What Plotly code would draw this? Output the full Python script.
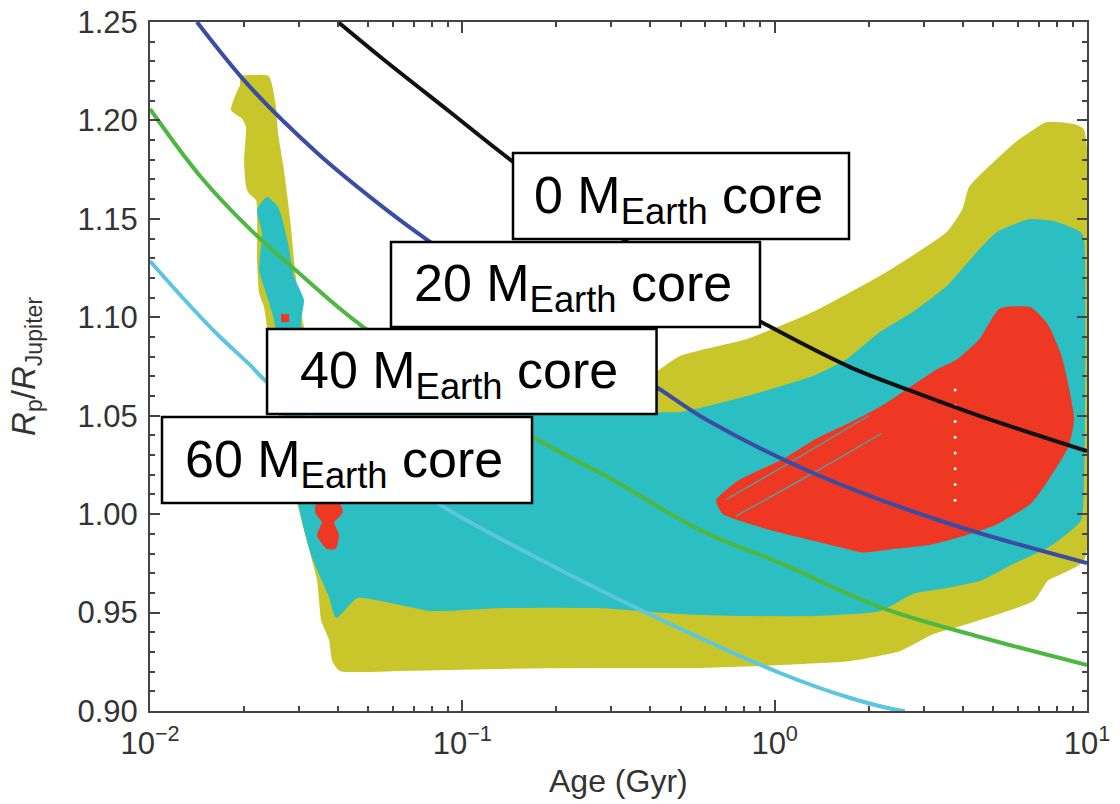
import plotly.graph_objects as go

# ---------------- data (age in Gyr, radius in R_Jupiter) ----------------
# model curves
age_0core = [0.040, 0.0557, 0.0913, 0.144, 0.30, 0.50, 0.918, 1.743, 2.858, 4.649, 10.0]
rad_0core = [1.250, 1.2312, 1.2043, 1.1795, 1.1438, 1.1205, 1.0971, 1.0747, 1.0615, 1.0493, 1.032]

age_20core = [0.01414, 0.0209, 0.0343, 0.0557, 0.0772, 0.1647, 0.399, 0.607, 1.327, 3.565, 10.0]
rad_20core = [1.250, 1.217, 1.1835, 1.156, 1.1393, 1.1027, 1.0666, 1.0478, 1.0209, 0.9955, 0.9752]

age_40core = [0.01, 0.01446, 0.0209, 0.03021, 0.0481, 0.1684, 0.304, 0.577, 1.04, 2.175, 4.547, 10.0]
rad_40core = [1.2058, 1.1718, 1.1448, 1.122, 1.0951, 1.0392, 1.0173, 0.9919, 0.9752, 0.9528, 0.9376, 0.9234]

age_60core = [0.01, 0.01275, 0.01639, 0.0209, 0.0237, 0.083, 0.1866, 0.39, 1.04, 1.705, 2.466, 2.61]
rad_60core = [1.1286, 1.1098, 1.0915, 1.0758, 1.0671, 1.0057, 0.9752, 0.9498, 0.9193, 0.9071, 0.9005, 0.900]

# outer (yellow) allowed region outline
yellow_age = [0.01942, 0.02387, 0.02513, 0.0255, 0.02665, 0.02806, 0.02869, 0.02955, 0.03089,
              0.0377, 0.0913, 0.1909, 0.3625, 0.4978, 0.8159, 1.327, 2.175, 3.565, 4.012, 4.225,
              5.155, 6.107, 7.452, 9.027, 9.716, 9.716, 7.452, 6.721, 4.132, 3.216, 2.521, 1.743,
              0.8981, 0.577, 0.276, 0.132, 0.0632, 0.04058, 0.03855, 0.03771, 0.03554, 0.03502,
              0.0345, 0.03324, 0.0299, 0.02607, 0.02335, 0.02251, 0.02218, 0.02202, 0.0209,
              0.02045, 0.02015, 0.02045, 0.01985, 0.0183, 0.01942]
yellow_rad = [1.2221, 1.2221, 1.2068, 1.1936, 1.1748, 1.1459, 1.1291, 1.1123, 1.0951,
              1.058, 1.058, 1.0605, 1.0656, 1.0798, 1.0885, 1.1022, 1.1205, 1.1428, 1.1545, 1.1662,
              1.1799, 1.1901, 1.1987, 1.1977, 1.1951, 0.9767, 0.9666, 0.9564, 0.9447, 0.9396, 0.931, 0.9259,
              0.9234, 0.9224, 0.9224, 0.9219, 0.9208, 0.9208, 0.9259, 0.9361, 0.9462, 0.9564,
              0.9666, 0.9767, 1.0046, 1.0478, 1.1052, 1.1123, 1.1291, 1.1596, 1.1631,
              1.1662, 1.1799, 1.1967, 1.2012, 1.2053, 1.217]

# middle (cyan) region outline
cyan_age = [0.0237, 0.0255, 0.02745, 0.02869, 0.03089, 0.03021, 0.0341, 0.04058, 0.132, 0.3625,
            0.4978, 0.8159, 1.327, 1.705, 2.175, 2.775, 3.565, 4.547, 5.155, 6.574, 8.023, 9.504,
            9.716, 9.716, 9.504, 7.452, 5.8, 4.547, 3.565, 2.775, 2.175, 1.327, 0.8159, 0.4978,
            0.27, 0.135, 0.0788, 0.046, 0.0395, 0.03771, 0.0357, 0.03324, 0.03181, 0.03021,
            0.02705, 0.02513, 0.0237, 0.02251, 0.02301, 0.02218, 0.0237]
cyan_rad = [1.1606, 1.156, 1.1377, 1.1205, 1.1088, 1.0971, 1.06, 1.0529, 1.0519, 1.0514,
            1.0514, 1.0595, 1.0697, 1.0783, 1.092, 1.1022, 1.1154, 1.1342, 1.1428, 1.1494, 1.1479, 1.1428,
            1.1393, 1.0189, 0.997, 0.9833, 0.9752, 0.9666, 0.963, 0.96, 0.9513, 0.9488, 0.9488, 0.9498,
            0.9528, 0.9528, 0.9513, 0.9579, 0.9478, 0.9579, 0.9666, 0.9782, 0.9884, 1.0036,
            1.0478, 1.0986, 1.1123, 1.124, 1.1428, 1.1545, 1.1606]

# inner (red) region outlines
red_age = [0.654, 0.775, 1.064, 1.367, 1.743, 2.175, 2.775, 3.311, 3.837, 4.547, 5.27, 6.574,
           7.452, 8.2, 8.64, 9.027, 8.64, 7.452, 6.574, 5.155, 4.012, 3.146, 2.466, 1.919,
           1.504, 1.18, 0.918, 0.684, 0.654]
red_rad = [1.007, 1.017, 1.0275, 1.038, 1.046, 1.054, 1.065, 1.073, 1.078, 1.0885, 1.104, 1.1047,
           1.096, 1.081, 1.066, 1.0478, 1.034, 1.0173, 1.0057, 0.9955, 0.9894, 0.985, 0.983, 0.981,
           0.985, 0.989, 0.9935, 1.0006, 1.007]

red_young_age = [0.03502, 0.03855, 0.04118, 0.03855, 0.03999, 0.03912, 0.03687, 0.0345, 0.0358, 0.034, 0.03502]
red_young_rad = [1.010, 1.010, 1.0011, 0.996, 0.9894, 0.9828, 0.9828, 0.9894, 0.996, 1.0011, 1.010]

red_dot_age = [0.02705]
red_dot_rad = [1.0996]

# thin gaps between red "fingers"
gap_a_age = [0.70, 1.2, 2.0]
gap_a_rad = [1.0075, 1.029, 1.050]
gap_b_age = [0.75, 1.3, 2.2]
gap_b_rad = [0.999, 1.020, 1.041]

# white dotted streak inside red region
streak_age = [3.782] * 8
streak_rad = [1.063, 1.055, 1.047, 1.039, 1.031, 1.023, 1.015, 1.007]

# axis ticks
x_tickvals = [0.01, 0.1, 1, 10]
x_ticktext = ["10<sup>\u22122</sup>", "10<sup>\u22121</sup>", "10<sup>0</sup>", "10<sup>1</sup>"]

# labels
core_labels = ["0 M<sub>Earth</sub> core", "20 M<sub>Earth</sub> core",
               "40 M<sub>Earth</sub> core", "60 M<sub>Earth</sub> core"]

# ---------------- styling ----------------
YELLOW = "#c9c62b"
CYAN = "#2bbfc3"
RED = "#ee3823"
C_BLACK = "#111111"
C_BLUE = "#3a4ca3"
C_GREEN = "#4cb842"
C_LBLUE = "#5cc6df"
AX = "#444444"
FONT = "Liberation Sans, Arial, Helvetica, sans-serif"

fig = go.Figure()


def poly(xs, ys, color, lw=2):
    fig.add_trace(go.Scatter(x=xs, y=ys, mode="lines", fill="toself", fillcolor=color,
                             line=dict(color=color, width=lw, shape="spline", smoothing=0.5),
                             hoverinfo="skip", showlegend=False))


poly(yellow_age, yellow_rad, YELLOW)
poly(cyan_age, cyan_rad, CYAN)
poly(red_age, red_rad, RED)
poly(red_young_age, red_young_rad, RED)

fig.add_trace(go.Scatter(x=red_dot_age, y=red_dot_rad, mode="markers",
                         marker=dict(symbol="square", size=8, color=RED), showlegend=False))
for ga, gr in ((gap_a_age, gap_a_rad), (gap_b_age, gap_b_rad)):
    fig.add_trace(go.Scatter(x=ga, y=gr, mode="lines", line=dict(color=CYAN, width=1.5, shape="spline"),
                             opacity=0.7, showlegend=False, hoverinfo="skip"))
fig.add_trace(go.Scatter(x=streak_age, y=streak_rad, mode="markers",
                         marker=dict(size=3, color="white"), showlegend=False, hoverinfo="skip"))

for xs, ys, c in ((age_60core, rad_60core, C_LBLUE), (age_40core, rad_40core, C_GREEN),
                  (age_20core, rad_20core, C_BLUE), (age_0core, rad_0core, C_BLACK)):
    fig.add_trace(go.Scatter(x=xs, y=ys, mode="lines", line=dict(color=c, width=4, shape="spline"),
                             showlegend=False, hoverinfo="skip"))

# ---------------- label boxes ----------------
# (x0, x1, y0, y1) in paper coordinates of the plot area
boxes = [(0.3874, 0.7460, 0.685, 0.810),
         (0.2572, 0.6510, 0.5573, 0.6807),
         (0.1249, 0.5406, 0.4310, 0.5544),
         (0.0128, 0.4077, 0.3019, 0.4267)]
shapes = []
annotations = []
for (x0, x1, y0, y1), txt in zip(boxes, core_labels):
    shapes.append(dict(type="rect", xref="paper", yref="paper", x0=x0, x1=x1, y0=y0, y1=y1,
                       fillcolor="white", line=dict(color="black", width=2.5), layer="above"))
    annotations.append(dict(xref="paper", yref="paper", x=(x0 + x1) / 2 - 0.003, y=(y0 + y1) / 2 - 0.004,
                            text=txt, showarrow=False, xanchor="center", yanchor="middle",
                            font=dict(family=FONT, size=52, color="black")))

annotations.append(dict(xref="paper", yref="paper", x=0.5, y=-0.1305, text="Age (Gyr)",
                        showarrow=False, xanchor="center", yanchor="bottom",
                        font=dict(family=FONT, size=32, color="#333333")))
annotations.append(dict(xref="paper", yref="paper", x=-0.133, y=0.5,
                        text="<i>R</i><sub>p</sub>/<i>R</i><sub>Jupiter</sub>", textangle=-90,
                        showarrow=False, xanchor="center", yanchor="middle",
                        font=dict(family=FONT, size=33, color="#333333")))

fig.update_layout(
    width=1120, height=804,
    margin=dict(l=150, r=33, t=22, b=93, autoexpand=False),
    paper_bgcolor="white", plot_bgcolor="white",
    shapes=shapes, annotations=annotations,
    showlegend=False,
    font=dict(family=FONT, color="#333333"),
)
fig.update_xaxes(type="log", range=[-2, 1], tickmode="array", tickvals=x_tickvals, ticktext=x_ticktext,
                 automargin=False, ticklabelstandoff=4,
                 ticks="inside", ticklen=11, tickwidth=1.5, tickcolor=AX,
                 showline=True, linecolor=AX, linewidth=2, mirror="allticks", showgrid=False, zeroline=False,
                 tickfont=dict(family=FONT, size=31, color="#333333"),
                 minor=dict(dtick="D1", ticks="inside", ticklen=5, tickwidth=1.5, tickcolor=AX, showgrid=False))
fig.update_yaxes(range=[0.90, 1.25], dtick=0.05, tick0=0.9, tickformat=".2f",
                 automargin=False, ticklabelstandoff=4,
                 ticks="inside", ticklen=10, tickwidth=1.5, tickcolor=AX,
                 showline=True, linecolor=AX, linewidth=2, mirror="allticks", showgrid=False, zeroline=False,
                 tickfont=dict(family=FONT, size=31, color="#333333"),
                 minor=dict(dtick=0.01, ticks="inside", ticklen=5, tickwidth=1.5, tickcolor=AX, showgrid=False))

fig.write_html("out.html")
